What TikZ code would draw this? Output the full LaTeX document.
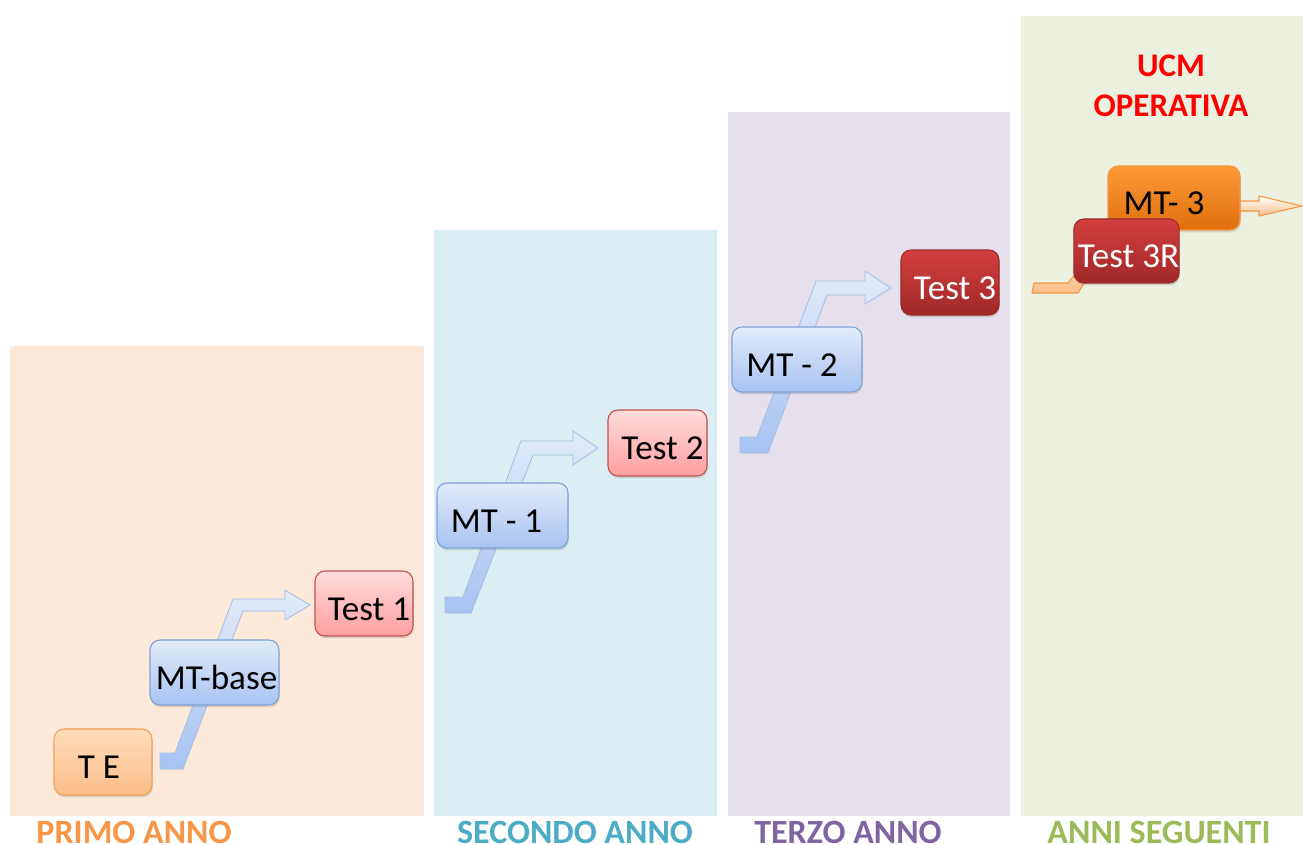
\documentclass[tikz,border=0pt]{standalone}
\usepackage{fontspec}
\setmainfont{Carlito}
\usetikzlibrary{shadows}
\definecolor{pone}{HTML}{FDE9D9}
\definecolor{ptwo}{HTML}{DAEEF3}
\definecolor{pthree}{HTML}{E5E0EC}
\definecolor{pfour}{HTML}{EBF1DE}
\definecolor{lone}{HTML}{F79646}
\definecolor{ltwo}{HTML}{4BACC6}
\definecolor{lthree}{HTML}{8064A2}
\definecolor{lfour}{HTML}{9BBB59}
\definecolor{ucmred}{HTML}{FF0000}
\definecolor{blueT}{HTML}{E2EBFA}
\definecolor{blueB}{HTML}{A6C3F1}
\definecolor{blueE}{HTML}{7FA2D6}
\definecolor{arrE}{HTML}{A3BDE6}
\definecolor{pinkT}{HTML}{FFDCDC}
\definecolor{pinkB}{HTML}{FF9F9F}
\definecolor{pinkE}{HTML}{C0504D}
\definecolor{redT}{HTML}{D43F3F}
\definecolor{redB}{HTML}{A02828}
\definecolor{redE}{HTML}{9A2A2A}
\definecolor{orT}{HTML}{FEDCBC}
\definecolor{orB}{HTML}{FBBE88}
\definecolor{orE}{HTML}{F5A05A}
\definecolor{dorT}{HTML}{FB9A36}
\definecolor{dorB}{HTML}{E06E0E}
\definecolor{dorE}{HTML}{F79646}
\begin{document}
\begin{tikzpicture}[x=0.75pt,y=-0.75pt,
  panel/.style={fill=#1,draw=none},
  yearlbl/.style={anchor=base,font=\fontsize{25.5}{30}\selectfont\bfseries,text=#1,inner sep=0},
  ucmlbl/.style={anchor=base,font=\fontsize{24.75}{30}\selectfont\bfseries,text=ucmred,inner sep=0},
  boxbase/.style={rounded corners=7.5pt,inner sep=0pt,line width=0.8pt,
    font=\fontsize{26.3}{30}\selectfont,text height=25.2pt,text depth=0pt,
    drop shadow={shadow xshift=0.6pt,shadow yshift=-1.8pt,opacity=0.25}},
  mtbox/.style={boxbase,top color=blueT,bottom color=blueB,draw=blueE},
  tebox/.style={boxbase,top color=orT,bottom color=orB,draw=orE},
  pinkbox/.style={boxbase,top color=pinkT,bottom color=pinkB,draw=pinkE},
  redbox/.style={boxbase,top color=redT,bottom color=redB,draw=redE,text=white},
  orbox/.style={boxbase,top color=dorT,bottom color=dorB,draw=dorE},
  bluearrow/.style={top color=blueT,bottom color=blueB,draw=arrE,line width=0.6pt,line join=miter},
  orarrow/.style={top color=#1,bottom color=orB,draw=lone,line width=0.8pt,line join=miter}
]
\useasboundingbox (0,0) rectangle (1303,845);
% panels
\path[panel=pone] (10,346) rectangle (424,816);
\path[panel=ptwo] (434,230) rectangle (717,816);
\path[panel=pthree] (728,112) rectangle (1010,816);
\path[panel=pfour] (1021,16) rectangle (1303,816);
% year labels
\node[yearlbl=lone] (y1) at (134,843) {PRIMO ANNO};
\node[yearlbl=ltwo] (y2) at (575,843) {SECONDO ANNO};
\node[yearlbl=lthree] (y3) at (848,843) {TERZO ANNO};
\node[yearlbl=lfour] (y4) at (1159,843) {ANNI SEGUENTI};
% UCM
\node[ucmlbl] (ucma) at (1171,77) {UCM};
\node[ucmlbl] (ucmb) at (1171,117) {OPERATIVA};
% arrows
\path[bluearrow] (160,753) -- (175,753) -- (233,599) -- (285,599) -- (285,590) -- (310,605) -- (285,620) -- (285,611) -- (243,611) -- (183,769) -- (160,769) -- cycle;
\path[bluearrow] (445,597) -- (463,597) -- (521,441) -- (573,441) -- (573,431) -- (598,448) -- (573,465) -- (573,455) -- (533,455) -- (471,613) -- (445,613) -- cycle;
\path[bluearrow] (740,437) -- (757,437) -- (816,281) -- (865,281) -- (865,271) -- (891,288) -- (865,304) -- (865,295) -- (827,295) -- (768,453) -- (740,453) -- cycle;
\path[orarrow=orT] (1034,283) -- (1068,283) -- (1088,258) -- (1100,258) -- (1078,293) -- (1032,293) -- cycle;
\path[orarrow=white] (1232,201) -- (1259,201) -- (1259,196) -- (1302,206) -- (1259,216) -- (1259,211) -- (1232,211) -- cycle;
% boxes
\node[tebox,minimum width=73.5pt,minimum height=49.5pt] (te) at (103,762) {T E\kern6pt};
\node[mtbox,minimum width=96.75pt,minimum height=48.75pt] (mtbase) at (214.5,672.5) {\kern3pt MT-base};
\node[pinkbox,minimum width=73.5pt,minimum height=48.75pt] (t1) at (364,603.5) {\kern7.5pt Test 1};
\node[mtbox,minimum width=98.25pt,minimum height=48.75pt] (mt1) at (502.5,515.5) {MT - 1\kern9pt};
\node[pinkbox,minimum width=74.25pt,minimum height=49.5pt] (t2) at (657.5,443) {\kern7.5pt Test 2};
\node[mtbox,minimum width=97.5pt,minimum height=48.75pt] (mt2) at (797,359.5) {MT - 2\kern7.5pt};
\node[redbox,minimum width=73.5pt,minimum height=48.75pt] (t3) at (950,282.5) {\kern7.5pt Test 3};
\node[orbox,minimum width=99pt,minimum height=48pt] (mt3) at (1174,198) {MT- 3\kern15pt};
\node[redbox,minimum width=77.25pt,minimum height=48pt] (t3r) at (1126.5,251) {\kern3pt Test 3R};
\end{tikzpicture}
\end{document}
